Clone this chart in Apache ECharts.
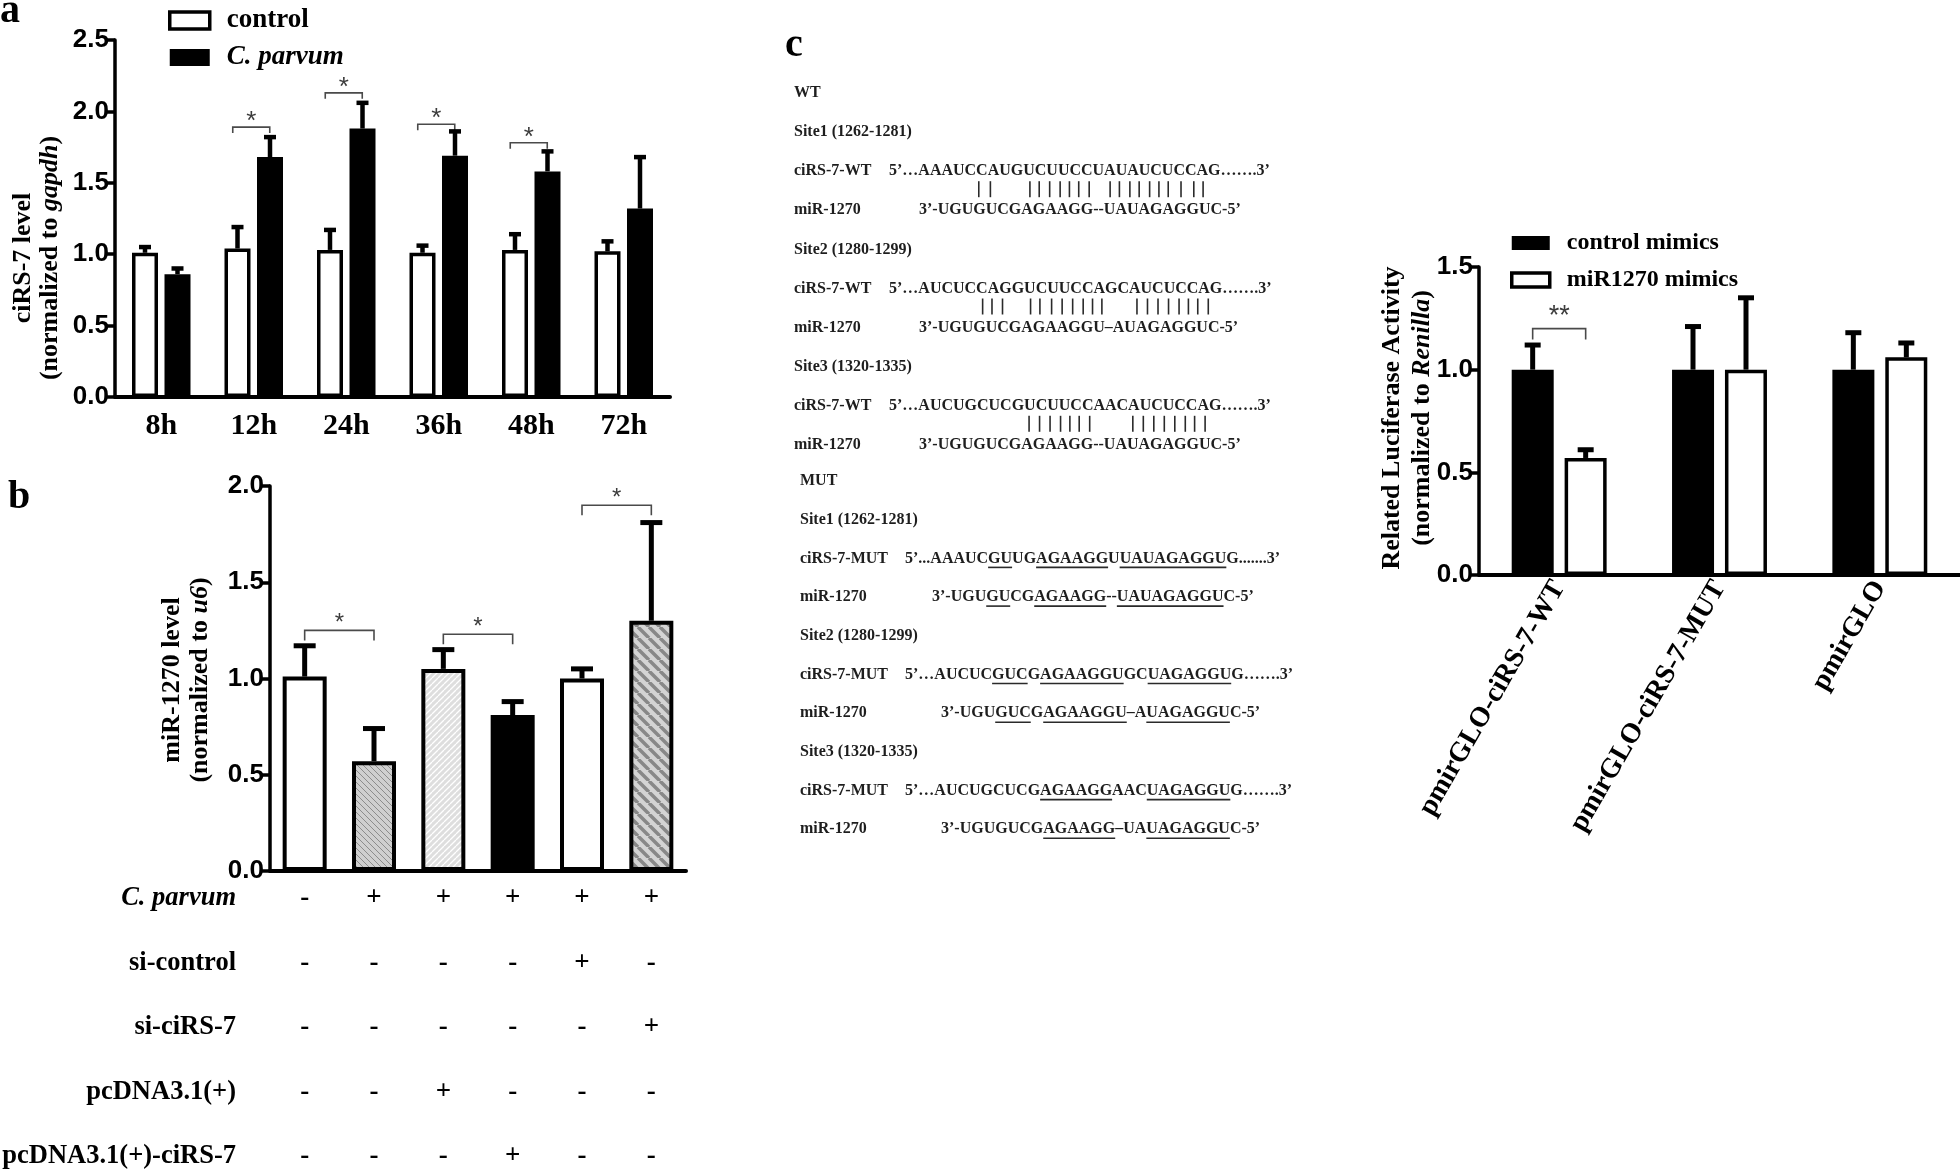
<!DOCTYPE html>
<html>
<head>
<meta charset="utf-8">
<script src="https://cdn.jsdelivr.net/npm/echarts@6/dist/echarts.min.js"></script>
<style>html,body{margin:0;padding:0;background:#fff}#main{width:1960px;height:1172px}</style>
</head>
<body>
<div id="main"></div>
<script>
var SERIF = '"Liberation Serif", "Times New Roman", serif';
var SANS = '"Liberation Sans", Arial, sans-serif';

// a: ciRS-7 level over time
var timeLabels = ['8h', '12h', '24h', '36h', '48h', '72h'];
var ctrlMean = [1.01, 1.04, 1.03, 1.01, 1.03, 1.02];
var ctrlErr = [0.04, 0.15, 0.14, 0.05, 0.11, 0.07];
var parvMean = [0.86, 1.68, 1.88, 1.69, 1.58, 1.32];
var parvErr = [0.04, 0.14, 0.18, 0.17, 0.14, 0.36];
var sigA = [[1, 1.89], [2, 2.13], [3, 1.91], [4, 1.78]];

// b: miR-1270 level
var mirMean = [1.01, 0.57, 1.05, 0.81, 1.00, 1.30];
var mirErr = [0.16, 0.17, 0.10, 0.07, 0.05, 0.51];
var sigB = [[0, 1, 1.25], [2, 3, 1.23], [4, 5, 1.90]];
var rowNames = ['C. parvum', 'si-control', 'si-ciRS-7', 'pcDNA3.1(+)', 'pcDNA3.1(+)-ciRS-7'];
var rowSigns = [
	['-', '+', '+', '+', '+', '+'],
	['-', '-', '-', '-', '+', '-'],
	['-', '-', '-', '-', '-', '+'],
	['-', '-', '+', '-', '-', '-'],
	['-', '-', '-', '+', '-', '-']
];

// c: luciferase
var lucLabels = ['pmirGLO-ciRS-7-WT', 'pmirGLO-ciRS-7-MUT', 'pmirGLO'];
var ctrlMimMean = [1.00, 1.00, 1.00];
var ctrlMimErr = [0.12, 0.21, 0.18];
var mirMimMean = [0.57, 1.00, 1.06];
var mirMimErr = [0.04, 0.35, 0.07];
var sigC = [[0, 1.20]];

// c: sequences
var siteNames = ['Site1 (1262-1281)', 'Site2 (1280-1299)', 'Site3 (1320-1335)'];
var wtTarget = ['5’…AAAUCCAUGUCUUCCUAUAUCUCCAG…….3’', '5’…AUCUCCAGGUCUUCCAGCAUCUCCAG…….3’', '5’…AUCUGCUCGUCUUCCAACAUCUCCAG…….3’'];
var wtMir = ['3’-UGUGUCGAGAAGG--UAUAGAGGUC-5’', '3’-UGUGUCGAGAAGGU–AUAGAGGUC-5’', '3’-UGUGUCGAGAAGG--UAUAGAGGUC-5’'];
// pairing marks, in letters from the first base
var wtPairs = [
	[5.2, 6.2, 9.6, 10.4, 11.3, 12.2, 13.0, 13.8, 14.7, 16.5, 17.3, 18.2, 19.0, 19.9, 20.7, 21.5, 22.6, 23.7, 24.5],
	[5.5, 6.3, 7.2, 9.6, 10.4, 11.4, 12.3, 13.2, 14.1, 14.9, 15.7, 18.7, 19.6, 20.5, 21.4, 22.3, 23.1, 23.9, 24.8],
	[9.5, 10.4, 11.3, 12.2, 13.0, 13.8, 14.7, 18.4, 19.3, 20.2, 21.1, 22.0, 22.9, 23.7, 24.6]
];
var mutTarget = ['5’...AAAUC[GU]UG[AGAAGG]U[UAUAGAGGU]G.......3’', '5’…AUCUC[GUC]G[AGAAGGU]GC[UAGAGGU]G…….3’', '5’…AUCUGCUCG[AGAAGG]AAC[UAGAGGU]G…….3’'];
var mutMir = ['3’-UGU[GU]CG[AGAAGG]--[UAUAGAGGU]C-5’', '3’-UGU[GUC]G[AGAAGGU]–A[UAGAGGU]C-5’', '3’-UGUGUCG[AGAAGG]–UA[UAGAGGU]C-5’'];

var chart = echarts.init(document.getElementById('main'));

var mctx = document.createElement('canvas').getContext('2d');
function textW(s) {
	mctx.font = 'bold 16px ' + SERIF;
	return mctx.measureText(s).width;
}

function hatch(bg, fg, lw, s, dir) {
	var c = document.createElement('canvas');
	c.width = s; c.height = s;
	var g = c.getContext('2d');
	g.fillStyle = bg; g.fillRect(0, 0, s, s);
	g.strokeStyle = fg; g.lineWidth = lw;
	g.beginPath();
	for (var k = -1; k <= 1; k++) {
		if (dir > 0) { g.moveTo(k * s, s); g.lineTo(k * s + s, 0); }
		else { g.moveTo(k * s, 0); g.lineTo(k * s + s, s); }
	}
	g.stroke();
	return c;
}

var bFill = [
	'#fff',
	{ image: hatch('#cfcfcf', '#8c8c8c', 1, 6, -1), repeat: 'repeat' },
	{ image: hatch('#dedede', '#ffffff', 1.3, 6, 1), repeat: 'repeat' },
	'#000',
	'#fff',
	{ image: hatch('#d4d4d4', '#888888', 3.5, 11, -1), repeat: 'repeat' }
];

function errSeries(xi, yi, means, errs, off, cap, lw) {
	return {
		type: 'custom', xAxisIndex: xi, yAxisIndex: yi, z: 3, silent: true,
		data: means.map(function(m, i) { return [i, m, errs[i]]; }),
		encode: { x: 0, y: 1 },
		renderItem: function(params, api) {
			var c = api.value(0), m = api.value(1), e = api.value(2);
			var a = api.coord([c, m]), b = api.coord([c, m + e]);
			var x = a[0] + off;
			return { type: 'group', children: [
				{ type: 'line', shape: { x1: x, y1: a[1], x2: x, y2: b[1] }, style: { stroke: '#000', lineWidth: lw } },
				{ type: 'line', shape: { x1: x - cap / 2, y1: b[1], x2: x + cap / 2, y2: b[1] }, style: { stroke: '#000', lineWidth: lw } }
			] };
		}
	};
}

function bracket(x1, x2, y, drop, label, fs, dy) {
	return { type: 'group', children: [
		{ type: 'polyline', shape: { points: [[x1, y + drop], [x1, y], [x2, y], [x2, y + drop]] }, style: { stroke: '#4a4a4a', lineWidth: 1.6, fill: null } },
		{ type: 'text', x: (x1 + x2) / 2, y: y - dy, style: { text: label, fontFamily: SANS, fontSize: fs, fill: '#3c3c3c', align: 'center', verticalAlign: 'middle' } }
	] };
}

function yAx(grid, max) {
	return {
		type: 'value', gridIndex: grid, min: 0, max: max, interval: 0.5,
		axisLine: { show: true, lineStyle: { color: '#000', width: 3.5 } },
		axisTick: { show: true, length: 8, lineStyle: { color: '#000', width: 3.5 } },
		splitLine: { show: false },
		axisLabel: { color: '#000', fontFamily: SANS, fontWeight: 'bold', fontSize: 26, margin: 6,
			formatter: function(v) { return v.toFixed(1); } }
	};
}

var rowOffs = [0, 65, 129, 194, 258];
var bAxes = rowSigns.map(function(signs, r) {
	return {
		type: 'category', gridIndex: 1, position: 'bottom', offset: rowOffs[r],
		data: signs.map(function(s, i) { return String(i); }),
		axisLine: { show: r === 0, lineStyle: { color: '#000', width: 4 } },
		axisTick: { show: false },
		axisLabel: { interval: 0, margin: 14, color: '#000', fontFamily: SERIF, fontWeight: 'bold', fontSize: 27,
			formatter: function(v, i) { return signs[i]; } },
		name: rowNames[r], nameLocation: 'start', nameGap: 34, nameMoveOverlap: false,
		nameTextStyle: { color: '#000', fontFamily: SERIF, fontWeight: 'bold', fontSize: 26.5,
			fontStyle: r === 0 ? 'italic' : 'normal', verticalAlign: 'top', padding: [14, 0, 0, 0] }
	};
});

function txt(x, y, s) {
	return { type: 'text', x: x, y: y, silent: true,
		style: { text: s, fontFamily: SERIF, fontWeight: 'bold', fontSize: 16, fill: '#1e1e1e', align: 'left', verticalAlign: 'middle' } };
}
function hline(x1, y1, x2, y2) {
	return { type: 'line', silent: true, shape: { x1: x1, y1: y1, x2: x2, y2: y2 }, style: { stroke: '#2a2a2a', lineWidth: 1.6 } };
}
function parseMarks(s) {
	var out = '', ranges = [], start = -1;
	for (var i = 0; i < s.length; i++) {
		var ch = s[i];
		if (ch === '[') start = out.length;
		else if (ch === ']') ranges.push([start, out.length]);
		else out += ch;
	}
	return { text: out, ranges: ranges };
}
function seqLine(x, y, raw, pairs) {
	var p = parseMarks(raw);
	var els = [txt(x, y, p.text)];
	p.ranges.forEach(function(r) {
		els.push(hline(x + textW(p.text.slice(0, r[0])), y + 9, x + textW(p.text.slice(0, r[1])), y + 9));
	});
	if (pairs) {
		var m = p.text.match(/^(5’(?:…|\.\.\.))([ACGU]+)/);
		var s0 = x + textW(m[1]);
		var lw = textW(m[2]) / m[2].length;
		pairs.forEach(function(q) {
			els.push(hline(s0 + q * lw, y + 10, s0 + q * lw, y + 26));
		});
	}
	return els;
}
function cBlock(top, step, head, labelX, tag, targets, mirs, seqX, mirX, pairs) {
	var els = [txt(labelX, top, head)];
	for (var k = 0; k < 3; k++) {
		var y1 = top + (1 + 3 * k) * step, y2 = top + (2 + 3 * k) * step, y3 = top + (3 + 3 * k) * step;
		els.push(txt(labelX, y1, siteNames[k]));
		els.push(txt(labelX, y2, tag));
		els = els.concat(seqLine(seqX, y2, targets[k], pairs ? pairs[k] : null));
		els.push(txt(labelX, y3, 'miR-1270'));
		els = els.concat(seqLine(mirX[k], y3, mirs[k], null));
	}
	return els;
}

function panelLetter(x, y, s) {
	return { type: 'text', x: x, y: y, silent: true,
		style: { text: s, fontFamily: SERIF, fontWeight: 'bold', fontSize: 40, fill: '#000', align: 'left', verticalAlign: 'middle' } };
}
function yTitle(x, y, l1, pre, it, post, fs, lh) {
	var base = { fontFamily: SERIF, fontWeight: 'bold', fontSize: fs, fill: '#000', lineHeight: lh };
	return { type: 'text', x: x, y: y, rotation: Math.PI / 2, silent: true,
		style: { text: '{b|' + l1 + '}\n{b|' + pre + '}{i|' + it + '}{b|' + post + '}',
			align: 'center', verticalAlign: 'middle', fill: '#000',
			rich: { b: base, i: Object.assign({}, base, { fontStyle: 'italic' }) } } };
}

var graphics = [
	panelLetter(0, 12, 'a'),
	panelLetter(8, 498, 'b'),
	panelLetter(785, 46, 'c'),
	yTitle(37, 258, 'ciRS-7 level', '(normalized to ', 'gapdh', ')', 26, 27),
	yTitle(186, 680, 'miR-1270 level', '(normalized to ', 'u6', ')', 26, 28),
	yTitle(1407, 418, 'Related Luciferase Activity', '(normalized to ', 'Renilla', ')', 26, 30)
];
graphics = graphics.concat(cBlock(93, 39.1, 'WT', 794, 'ciRS-7-WT', wtTarget, wtMir, 889, [919, 919, 919], wtPairs));
graphics = graphics.concat(cBlock(481, 38.7, 'MUT', 800, 'ciRS-7-MUT', mutTarget, mutMir, 905, [932, 941, 941], null));

var option = {
	animation: false,
	backgroundColor: '#fff',
	grid: [
		{ left: 115, top: 40, width: 555, height: 357, containLabel: false, outerBoundsMode: 'none' },
		{ left: 270, top: 486, width: 416, height: 385, containLabel: false, outerBoundsMode: 'none' },
		{ left: 1479, top: 267, width: 481, height: 308, containLabel: false, outerBoundsMode: 'none' }
	],
	legend: [{
		data: [
			{ name: 'control', itemStyle: { color: '#fff', borderColor: '#000', borderWidth: 3.5 } },
			{ name: 'C. parvum', itemStyle: { color: '#000', borderWidth: 0 } }
		],
		orient: 'vertical', left: 163, top: 2, itemWidth: 40, itemHeight: 17, itemGap: 10, icon: 'rect',
		formatter: function(n) { return n === 'C. parvum' ? '{i|C. parvum}' : n; },
		textStyle: { color: '#000', fontFamily: SERIF, fontWeight: 'bold', fontSize: 27, padding: [0, 0, 0, 12],
			rich: { i: { fontFamily: SERIF, fontWeight: 'bold', fontStyle: 'italic', fontSize: 27, color: '#000' } } }
	}, {
		data: [
			{ name: 'control mimics', itemStyle: { color: '#000', borderWidth: 0 } },
			{ name: 'miR1270 mimics', itemStyle: { color: '#fff', borderColor: '#000', borderWidth: 3.5 } }
		],
		orient: 'vertical', left: 1505, top: 226, itemWidth: 38, itemHeight: 14, itemGap: 13, icon: 'rect',
		textStyle: { color: '#000', fontFamily: SERIF, fontWeight: 'bold', fontSize: 24, padding: [0, 0, 0, 12] }
	}],
	xAxis: [{
		type: 'category', gridIndex: 0, data: timeLabels,
		axisLine: { lineStyle: { color: '#000', width: 4 } },
		axisTick: { show: false },
		axisLabel: { interval: 0, color: '#000', fontFamily: SERIF, fontWeight: 'bold', fontSize: 30, margin: 14 }
	}].concat(bAxes).concat([{
		type: 'category', gridIndex: 2, data: lucLabels,
		axisLine: { lineStyle: { color: '#000', width: 4 } },
		axisTick: { show: false },
		axisLabel: { interval: 0, rotate: 60, color: '#000', fontFamily: SERIF, fontWeight: 'bold', fontSize: 28, margin: 8 }
	}]),
	yAxis: [yAx(0, 2.5), yAx(1, 2.0), yAx(2, 1.5)],
	series: [
		{ type: 'bar', name: 'control', xAxisIndex: 0, yAxisIndex: 0, data: ctrlMean, barWidth: 26, barGap: '25%',
			itemStyle: { color: '#fff', borderColor: '#000', borderWidth: 3.5 } },
		{ type: 'bar', name: 'C. parvum', xAxisIndex: 0, yAxisIndex: 0, data: parvMean, barWidth: 26, barGap: '25%',
			itemStyle: { color: '#000' } },
		errSeries(0, 0, ctrlMean, ctrlErr, -16.25, 12, 4.5),
		errSeries(0, 0, parvMean, parvErr, 16.25, 12, 4.5),
		{ type: 'custom', xAxisIndex: 0, yAxisIndex: 0, silent: true, data: sigA, encode: { x: 0, y: 1 },
			renderItem: function(params, api) {
				var p = api.coord([api.value(0), api.value(1)]);
				return bracket(p[0] - 21, p[0] + 16, p[1], 6, '*', 26, 5);
			} },

		{ type: 'bar', name: 'miR-1270', xAxisIndex: 1, yAxisIndex: 1, barWidth: 44,
			data: mirMean.map(function(v, i) { return { value: v, itemStyle: { color: bFill[i] } }; }),
			itemStyle: { borderColor: '#000', borderWidth: 4 } },
		errSeries(1, 1, mirMean, mirErr, 0, 22, 5),
		{ type: 'custom', xAxisIndex: 1, yAxisIndex: 1, silent: true, data: sigB, encode: { x: 0, y: 2 },
			renderItem: function(params, api) {
				var a = api.coord([api.value(0), api.value(2)]), b = api.coord([api.value(1), api.value(2)]);
				return bracket(a[0], b[0], a[1], 10, '*', 24, 7);
			} },

		{ type: 'bar', name: 'control mimics', xAxisIndex: 6, yAxisIndex: 2, data: ctrlMimMean, barWidth: 42, barGap: '26%',
			itemStyle: { color: '#000' } },
		{ type: 'bar', name: 'miR1270 mimics', xAxisIndex: 6, yAxisIndex: 2, data: mirMimMean, barWidth: 42, barGap: '26%',
			itemStyle: { color: '#fff', borderColor: '#000', borderWidth: 3.5 } },
		errSeries(6, 2, ctrlMimMean, ctrlMimErr, -26.5, 16, 5),
		errSeries(6, 2, mirMimMean, mirMimErr, 26.5, 16, 5),
		{ type: 'custom', xAxisIndex: 6, yAxisIndex: 2, silent: true, data: sigC, encode: { x: 0, y: 1 },
			renderItem: function(params, api) {
				var p = api.coord([api.value(0), api.value(1)]);
				return bracket(p[0] - 26.5, p[0] + 26.5, p[1], 11, '**', 27, 12);
			} }
	],
	graphic: graphics
};

chart.setOption(option);
</script>
</body>
</html>
